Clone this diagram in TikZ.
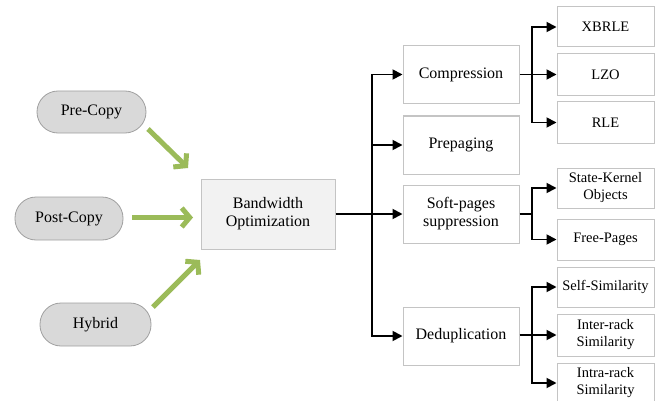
\documentclass[tikz,border=0pt]{standalone}
\usepackage{fontspec}
\setmainfont{Liberation Serif}
\usetikzlibrary{arrows.meta,calc}
\definecolor{boxline}{HTML}{C4C4C4}
\definecolor{pillfill}{HTML}{D9D9D9}
\definecolor{pilline}{HTML}{A0A0A0}
\definecolor{bwfill}{HTML}{F2F2F2}
\definecolor{greenarrow}{HTML}{9BBB59}
\tikzset{
  pill/.style={draw=pilline, fill=pillfill, line width=0.8pt, rounded corners=21pt, inner sep=0pt, font=\fontsize{16}{18}\selectfont},
  lvtwo/.style={draw=boxline, fill=white, line width=1pt, inner sep=0pt, minimum width=116pt, minimum height=58pt, align=center, font=\fontsize{16}{18}\selectfont},
  lvthree/.style={draw=boxline, fill=white, line width=1pt, inner sep=0pt, minimum width=97pt, align=center, font=\fontsize{14.5}{17}\selectfont},
  conn/.style={line width=1.8pt, -{Triangle[length=10pt,width=10pt]}},
  plainconn/.style={line width=1.8pt},
  greenarr/.style={draw=greenarrow, line width=5pt, -{Straight Barb[length=8pt,width=19pt,line width=5pt]}}
}
\begin{document}
\begin{tikzpicture}[x=1pt,y=-1pt]
\useasboundingbox (0,0) rectangle (655,401);
% sources
\node[pill, minimum width=109pt, minimum height=42pt] (pre) at (91.5,112) {Pre-Copy};
\node[pill, minimum width=108pt, minimum height=43pt] (post) at (69,218.5) {Post-Copy};
\node[pill, minimum width=111pt, minimum height=43pt] (hyb) at (95.5,324.5) {Hybrid};
% central
\node[draw=boxline, fill=bwfill, line width=1pt, inner sep=0pt, minimum width=134pt, minimum height=70pt, align=center, font=\fontsize{16}{18}\selectfont] (bw) at (268,214) {Bandwidth\\Optimization};
% level 2
\node[lvtwo] (comp) at (461,74.5) {Compression};
\node[lvtwo] (prep) at (461,145) {Prepaging};
\node[lvtwo] (soft) at (461,214) {Soft-pages\\suppression};
\node[lvtwo] (dedup) at (461,336) {Deduplication};
% level 3
\node[lvthree, minimum height=40pt] (xbrle) at (605.5,27) {XBRLE};
\node[lvthree, minimum height=42pt] (lzo) at (605.5,74.5) {LZO};
\node[lvthree, minimum height=41pt] (rle) at (605.5,122.5) {RLE};
\node[lvthree, minimum height=40pt] (sk) at (605.5,188) {State-Kernel\\Objects};
\node[lvthree, minimum height=41pt] (fp) at (605.5,239.5) {Free-Pages};
\node[lvthree, minimum height=40pt] (self) at (605.5,287) {Self-Similarity};
\node[lvthree, minimum height=42pt] (inter) at (605.5,335) {Inter-rack\\Similarity};
\node[lvthree, minimum height=40pt] (intra) at (605.5,383) {Intra-rack\\Similarity};
% green arrows
\coordinate (preA) at (148,129);
\coordinate (preB) at (188,168);
\coordinate (postA) at (132,217.5);
\coordinate (postB) at (193,217.5);
\coordinate (hybA) at (153,307);
\coordinate (hybB) at (200,260);
\draw[greenarr] (preA) -- (preB);
\draw[greenarr] (postA) -- (postB);
\draw[greenarr] (hybA) -- (hybB);
% trunk
\coordinate (trunk) at (372,214);
\draw[conn] (bw.east) -- (soft.west);
\draw[conn] (trunk) |- (comp.west);
\draw[conn] (trunk) |- (prep.west);
\draw[conn] (trunk) |- (dedup.west);
% compression branch
\coordinate (cb) at (532,74.5);
\draw[conn] (comp.east) -- (lzo.west);
\draw[conn] (cb) |- (xbrle.west);
\draw[conn] (cb) |- (rle.west);
% soft branch
\coordinate (sb) at (532,214);
\draw[plainconn] (soft.east) -- (sb);
\draw[conn] (sb) |- (sk.west);
\draw[conn] (sb) |- (fp.west);
% dedup branch
\coordinate (db) at (532,335);
\draw[conn] (dedup.east |- db) -- (inter.west);
\draw[conn] (db) |- (self.west);
\draw[conn] (db) |- (intra.west);
\end{tikzpicture}
\end{document}
